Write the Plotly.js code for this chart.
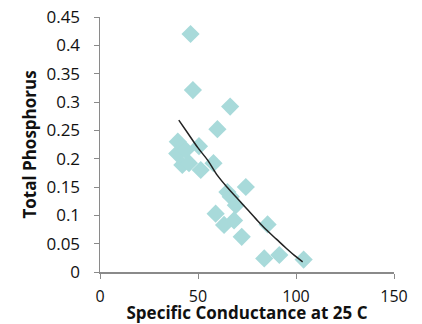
<!DOCTYPE html>
<html><head><meta charset="utf-8">
<script src="https://cdn.plot.ly/plotly-3.0.1.min.js"></script>
<style>html,body{margin:0;padding:0;background:#fff}#chart{width:422px;height:324px}</style>
</head><body><div id="chart"></div>
<script>
const conductance = [46.2,47.4,66.4,59.9,39.7,50.5,39.4,43.7,42.0,45.4,51.4,57.9,74.4,65.0,66.7,69.3,59.0,63.3,68.4,72.3,85.5,83.8,91.5,103.9];
const phosphorus  = [0.42,0.321,0.292,0.252,0.230,0.222,0.209,0.215,0.189,0.192,0.180,0.192,0.150,0.141,0.133,0.118,0.103,0.083,0.091,0.062,0.084,0.024,0.030,0.022];
const trendX = [40.2,45,50,55,60,65,70,75,80,85,90,95,100,103.4];
const trendY = [0.268,0.244,0.219,0.197,0.170,0.149,0.130,0.111,0.092,0.074,0.058,0.042,0.027,0.018];
const xTicks = [0,50,100,150];
const yTicks = [0,0.05,0.1,0.15,0.2,0.25,0.3,0.35,0.4,0.45];
const yTickText = ["0","0.05","0.1","0.15","0.2","0.25","0.3","0.35","0.4","0.45"];

const font = "'Open Sans', sans-serif";
Plotly.newPlot('chart', [
  {x: conductance, y: phosphorus, type:'scatter', mode:'markers',
   marker:{symbol:'diamond', size:14, color:'rgb(168,218,218)', line:{width:0}}},
  {x: trendX, y: trendY, type:'scatter', mode:'lines',
   line:{color:'#222', width:1.5, shape:'spline'}}
], {
  width:422, height:324, showlegend:false,
  paper_bgcolor:'#fff', plot_bgcolor:'#fff',
  margin:{l:100, r:28, t:17, b:52},
  font:{family:font, color:'#111', size:17},
  xaxis:{range:[0,150], tickvals:xTicks, showgrid:false, zeroline:false, automargin:false,
    showline:true, linecolor:'#8a8a8a', linewidth:1.5, ticks:'outside', ticklen:5, tickcolor:'#8a8a8a',
    ticklabelstandoff:4, tickfont:{size:16, family:font, color:'#111'},
    title:{text:'<b>Specific Conductance at 25 C</b>', font:{size:17, family:font, color:'#111'}, standoff:0}},
  yaxis:{range:[0,0.45], tickvals:yTicks, ticktext:yTickText, showgrid:false, zeroline:false, automargin:false,
    showline:true, linecolor:'#8a8a8a', linewidth:1.5, ticks:'outside', ticklen:5, tickcolor:'#8a8a8a',
    ticklabelstandoff:10, tickfont:{size:17, family:font, color:'#111'},
    title:{text:'<b>Total Phosphorus</b>', font:{size:17, family:font, color:'#111'}, standoff:5}}
}, {displayModeBar:false, staticPlot:true});
</script></body></html>
